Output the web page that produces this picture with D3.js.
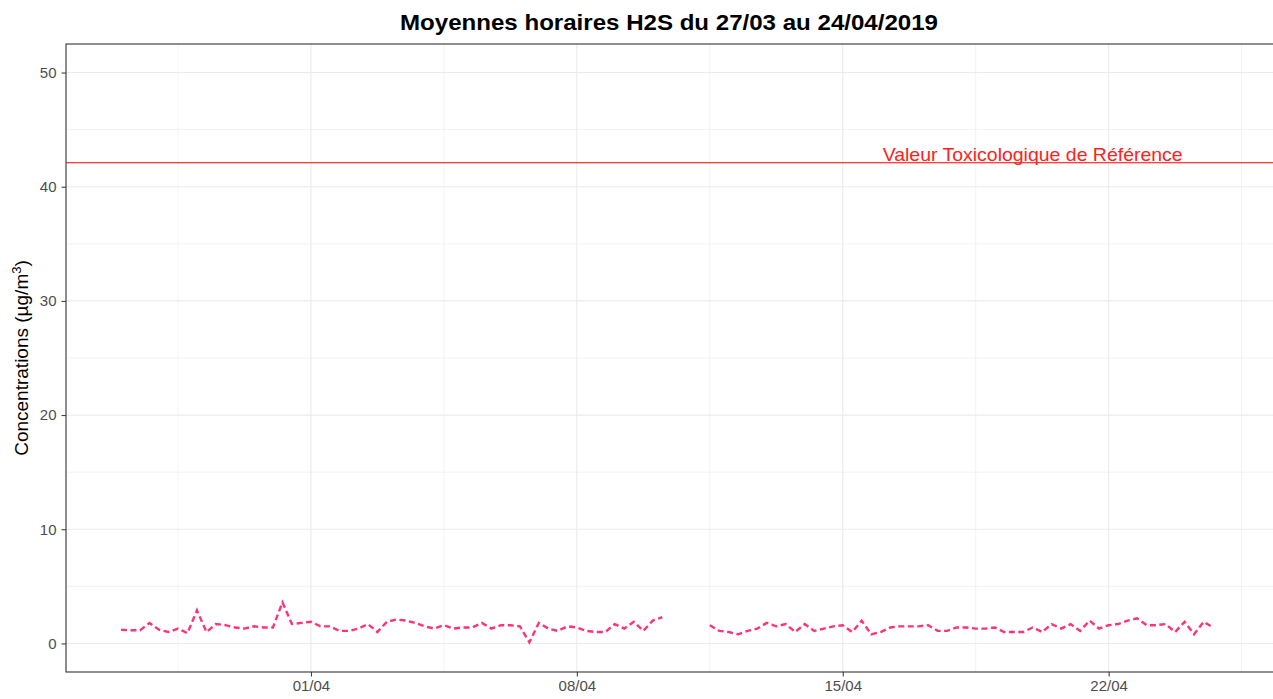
<!DOCTYPE html>
<html lang="fr">
<head>
<meta charset="utf-8">
<title>Moyennes horaires H2S</title>
<script src="https://d3js.org/d3.v7.min.js"></script>
<style>
    body { margin: 0; background: #fff; overflow: hidden; }
    svg { display: block; }
    text { font-family: 'Liberation Sans', Arial, sans-serif; }
    .grid line { stroke: #ebebeb; }
    .axis text { fill: #4d4d4d; font-size: 15px; }
    .axis line, .axis path { stroke: #333; }
</style>
</head>
<body>
<svg id="chart"></svg>
<script>
    // Data: 6-hourly readings of the H2S hourly averages, starting 27/03/2019 00:00
    const startDate = new Date(2019, 2, 27, 0, 0);
    const endDate = new Date(2019, 3, 24, 23, 0);
    const stepHours = 6;
    const h2sValues = [
        1.2, 1.15, 1.15, 1.8, 1.2, 1.0, 1.3, 0.9, 2.9, 1.0,
        1.7, 1.6, 1.4, 1.3, 1.5, 1.4, 1.4, 3.6, 1.7, 1.8,
        1.9, 1.5, 1.5, 1.1, 1.1, 1.3, 1.7, 1.0, 1.9, 2.1,
        2.0, 1.8, 1.5, 1.3, 1.6, 1.3, 1.4, 1.4, 1.8, 1.3,
        1.6, 1.6, 1.5, 0.1, 1.8, 1.3, 1.1, 1.5, 1.4, 1.1,
        1.0, 1.0, 1.7, 1.3, 1.9, 1.1, 2.0, 2.3, null, null,
        null, null, 1.6, 1.1, 1.0, 0.8, 1.1, 1.3, 1.8, 1.5,
        1.7, 1.0, 1.7, 1.1, 1.3, 1.5, 1.6, 1.0, 2.0, 0.8,
        1.0, 1.4, 1.5, 1.5, 1.5, 1.6, 1.1, 1.1, 1.4, 1.4,
        1.3, 1.3, 1.4, 1.0, 1.0, 1.0, 1.4, 1.0, 1.7, 1.3,
        1.7, 1.1, 2.0, 1.3, 1.6, 1.7, 2.0, 2.2, 1.6, 1.6,
        1.7, 1.0, 1.9, 0.8, 1.9, 1.4
    ];
    const yTicks = [0, 10, 20, 30, 40, 50];
    const xTickDates = [new Date(2019, 3, 1), new Date(2019, 3, 8), new Date(2019, 3, 15), new Date(2019, 3, 22)];
    const vtrValue = 42.1;
    const vtrLabel = "Valeur Toxicologique de Référence";
    const vtrLabelDate = new Date(2019, 3, 20, 0);

    const WIDTH = 1273, HEIGHT = 699;
    const margin = {top: 44, left: 66, bottom: 27};
    const innerW = 1210;   // panel runs slightly past the right edge
    const innerH = HEIGHT - margin.top - margin.bottom;

    const svg = d3.select('#chart')
        .attr('width', WIDTH)
        .attr('height', HEIGHT);

    const data = h2sValues.map((v, i) => ({
        date: d3.timeHour.offset(startDate, i * stepHours),
        value: v
    }));

    // ggplot-like 5% expansion
    const span = endDate - startDate;
    const x = d3.scaleTime()
        .domain([new Date(+startDate - span * 0.05), new Date(+endDate + span * 0.05)])
        .range([0, innerW]);
    const y = d3.scaleLinear()
        .domain([-2.5, 52.5])
        .range([innerH, 0]);

    const g = svg.append('g')
        .attr('transform', `translate(${margin.left},${margin.top})`);

    // minor + major grid
    const xMinor = xTickDates.map(d => d3.timeHour.offset(d, -84)).concat([d3.timeHour.offset(xTickDates[3], 84)]);
    const yMinor = [5, 15, 25, 35, 45];
    const grid = g.append('g').attr('class', 'grid');
    grid.selectAll('line.xmin').data(xMinor).join('line')
        .attr('class', 'xmin')
        .attr('x1', d => x(d)).attr('x2', d => x(d))
        .attr('y1', 0).attr('y2', innerH).attr('stroke-width', 0.6);
    grid.selectAll('line.ymin').data(yMinor).join('line')
        .attr('class', 'ymin')
        .attr('x1', 0).attr('x2', innerW)
        .attr('y1', d => y(d)).attr('y2', d => y(d)).attr('stroke-width', 0.6);
    grid.selectAll('line.xmaj').data(xTickDates).join('line')
        .attr('class', 'xmaj')
        .attr('x1', d => x(d)).attr('x2', d => x(d))
        .attr('y1', 0).attr('y2', innerH).attr('stroke-width', 1.1);
    grid.selectAll('line.ymaj').data(yTicks).join('line')
        .attr('class', 'ymaj')
        .attr('x1', 0).attr('x2', innerW)
        .attr('y1', d => y(d)).attr('y2', d => y(d)).attr('stroke-width', 1.1);

    // reference line (VTR)
    g.append('line')
        .attr('x1', 0).attr('x2', innerW)
        .attr('y1', y(vtrValue)).attr('y2', y(vtrValue))
        .attr('stroke', '#ff0000').attr('stroke-width', 1.1);
    g.append('text')
        .attr('x', x(vtrLabelDate))
        .attr('y', y(vtrValue) - 1.5)
        .attr('text-anchor', 'middle')
        .attr('fill', '#ff2020')
        .attr('textLength', 300)
        .attr('lengthAdjust', 'spacingAndGlyphs')
        .style('font-size', '18.5px')
        .text(vtrLabel);

    // H2S series
    const line = d3.line()
        .defined(d => d.value !== null)
        .x(d => x(d.date))
        .y(d => y(d.value));
    g.append('path')
        .datum(data)
        .attr('fill', 'none')
        .attr('stroke', '#ff3377')
        .attr('stroke-width', 2.4)
        .attr('stroke-dasharray', '6,3.5')
        .attr('d', line);

    // axes
    const xAxis = g.append('g')
        .attr('class', 'axis')
        .attr('transform', `translate(0,${innerH})`)
        .call(d3.axisBottom(x).tickValues(xTickDates).tickFormat(d3.timeFormat('%d/%m')).tickSize(4.5).tickPadding(4));
    xAxis.select('.domain').remove();
    const yAxis = g.append('g')
        .attr('class', 'axis')
        .call(d3.axisLeft(y).tickValues(yTicks).tickSize(4.5).tickPadding(5));
    yAxis.select('.domain').remove();

    // panel border
    g.append('rect')
        .attr('width', innerW).attr('height', innerH)
        .attr('fill', 'none').attr('stroke', '#333').attr('stroke-width', 1.1);

    // title and y label
    svg.append('text')
        .attr('x', 669)
        .attr('y', 30)
        .attr('text-anchor', 'middle')
        .attr('textLength', 538)
        .attr('lengthAdjust', 'spacingAndGlyphs')
        .style('font-size', '21.5px')
        .style('font-weight', 'bold')
        .text('Moyennes horaires H2S du 27/03 au 24/04/2019');

    const ylab = svg.append('text')
        .attr('transform', `translate(28,${margin.top + innerH / 2}) rotate(-90)`)
        .attr('text-anchor', 'middle')
        .style('font-size', '19px')
        .attr('fill', '#000');
    ylab.append('tspan').text('Concentrations (µg/m');
    ylab.append('tspan').attr('dy', -7).style('font-size', '13px').text('3');
    ylab.append('tspan').attr('dy', 7).text(')');
</script>
</body>
</html>
